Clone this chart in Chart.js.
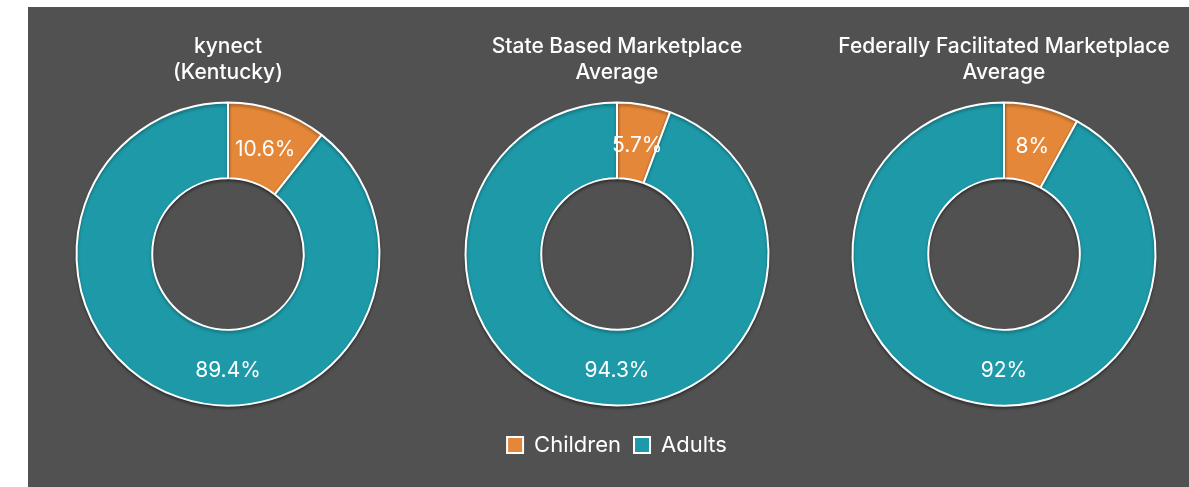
<!DOCTYPE html>
<html>
<head>
<meta charset="utf-8">
<script src="https://cdn.jsdelivr.net/npm/chart.js@4/dist/chart.umd.min.js"></script>
<style>
  html, body { margin: 0; padding: 0; background: #fff; width: 1189px; height: 487px; overflow: hidden; }
  #panel { position: absolute; left: 28px; top: 7px; width: 1161px; height: 480px; background: #515151; }
  .box { position: absolute; top: 7px; width: 380px; height: 480px; }
</style>
</head>
<body>
<div id="panel"></div>
<div class="box" style="left:38px"><canvas id="c0"></canvas></div>
<div class="box" style="left:427px"><canvas id="c1"></canvas></div>
<div class="box" style="left:814px"><canvas id="c2"></canvas></div>
<script>
const categories = ['Children', 'Adults'];
const titles = [
  ['kynect', '(Kentucky)'],
  ['State Based Marketplace', 'Average'],
  ['Federally Facilitated Marketplace', 'Average']
];
const kynectValues = [10.6, 89.4];
const stateBasedValues = [5.7, 94.3];
const federalValues = [8, 92];
const seriesValues = [kynectValues, stateBasedValues, federalValues];

const colors = ['#E48738', '#1E99A8'];
const FONT = 'Inter, "Noto Sans", sans-serif';

// draws the % labels; the big slice gets its label at the bottom like the original
const sliceLabels = {
  id: 'sliceLabels',
  beforeDatasetsDraw(chart) {
    const ctx = chart.ctx;
    ctx.save();
    ctx.shadowColor = 'rgba(0,0,0,0.35)';
    ctx.shadowBlur = 3;
    ctx.shadowOffsetY = 2;
  },
  afterDatasetsDraw(chart) {
    const ctx = chart.ctx;
    ctx.restore();
    const meta = chart.getDatasetMeta(0);
    const data = chart.data.datasets[0].data;
    ctx.save();
    ctx.fillStyle = '#ffffff';
    ctx.font = '21px ' + FONT;
    ctx.textAlign = 'center';
    ctx.textBaseline = 'middle';
    meta.data.forEach((arc, i) => {
      const p = arc.getProps(['x', 'y', 'startAngle', 'endAngle', 'innerRadius', 'outerRadius'], true);
      const span = p.endAngle - p.startAngle;
      const angle = span > Math.PI ? Math.PI / 2 : (p.startAngle + p.endAngle) / 2;
      const r = (p.innerRadius + p.outerRadius) / 2;
      ctx.fillText(data[i] + '%', p.x + Math.cos(angle) * r, p.y + Math.sin(angle) * r + 3);
    });
    ctx.restore();
  }
};

seriesValues.forEach((values, idx) => {
  const withLegend = idx === 1;
  new Chart(document.getElementById('c' + idx), {
    type: 'doughnut',
    data: {
      labels: categories,
      datasets: [{
        data: values,
        backgroundColor: colors,
        borderColor: '#ffffff',
        borderWidth: 2,
        hoverBorderWidth: 2
      }]
    },
    options: {
      responsive: true,
      maintainAspectRatio: false,
      animation: false,
      cutout: '50%',
      radius: 151.5,
      layout: { padding: { top: 0, left: 0, right: 0, bottom: withLegend ? 21 : 66 } },
      plugins: {
        title: {
          display: true,
          text: titles[idx],
          color: '#ffffff',
          font: { family: FONT, size: 21, weight: '500', lineHeight: '26px' },
          padding: { top: 27, bottom: 1 }
        },
        legend: {
          display: withLegend,
          position: 'bottom',
          labels: {
            color: '#ffffff',
            boxWidth: 16,
            boxHeight: 16,
            padding: 13,
            font: { family: FONT, size: 22 }
          }
        },
        tooltip: { enabled: false }
      }
    },
    plugins: [sliceLabels]
  });
});
</script>
</body>
</html>
